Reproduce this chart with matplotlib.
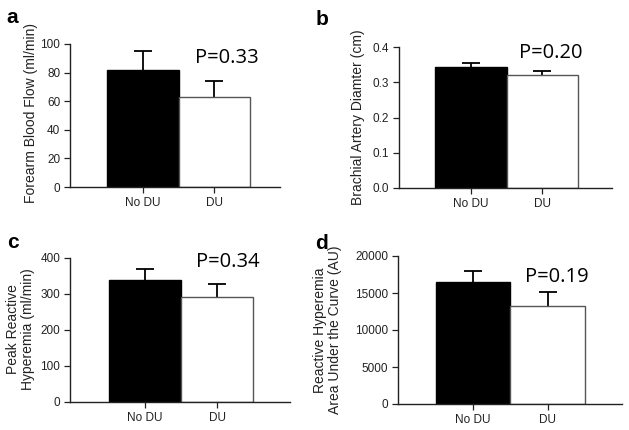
import matplotlib
matplotlib.use("Agg")
import matplotlib.pyplot as plt

groups = ["No DU", "DU"]

fbf_mean = [82, 63]
fbf_err = [13, 11]
fbf_ticks = [0, 20, 40, 60, 80, 100]

bad_mean = [0.343, 0.321]
bad_err = [0.013, 0.010]
bad_ticks = [0.0, 0.1, 0.2, 0.3, 0.4]
bad_ticklabels = ["0.0", "0.1", "0.2", "0.3", "0.4"]

prh_mean = [340, 291]
prh_err = [30, 38]
prh_ticks = [0, 100, 200, 300, 400]

auc_mean = [16500, 13250]
auc_err = [1450, 1900]
auc_ticks = [0, 5000, 10000, 15000, 20000]

p_values = ["P=0.33", "P=0.20", "P=0.34", "P=0.19"]
panel_letters = ["a", "b", "c", "d"]
ylabels = [["Forearm Blood Flow (ml/min)"], ["Brachial Artery Diamter (cm)"],
           ["Peak Reactive", "Hyperemia (ml/min)"],
           ["Reactive Hyperemia", "Area Under the Curve (AU)"]]

W, H = 629, 430
fig = plt.figure(figsize=(W / 100, H / 100), dpi=100)
plt.rcParams['font.family'] = ['Liberation Sans', 'DejaVu Sans']

def fx(px):
    return px / W

def fy(py):
    return 1 - py / H

panels = [
    dict(box=(70, 280, 44, 187), xlim=(-1.02, 1.92), mean=fbf_mean, err=fbf_err,
         ticks=fbf_ticks, tl=[str(t) for t in fbf_ticks], p=(0.748, 0.905),
         letter=(12.5, 23), ylab=([31], 113)),
    dict(box=(399, 612, 47, 188), xlim=(-1.0, 1.97), mean=bad_mean, err=bad_err,
         ticks=bad_ticks, tl=bad_ticklabels, p=(0.714, 0.955),
         letter=(322, 25), ylab=([358], 117)),
    dict(box=(70, 290, 258, 402), xlim=(-1.04, 2.01), mean=prh_mean, err=prh_err,
         ticks=prh_ticks, tl=[str(t) for t in prh_ticks], p=(0.718, 0.97),
         letter=(12.5, 248), ylab=([13, 28], 329)),
    dict(box=(398, 622, 256, 404), xlim=(-1.01, 2.0), mean=auc_mean, err=auc_err,
         ticks=auc_ticks, tl=[str(t) for t in auc_ticks], p=(0.708, 0.86),
         letter=(321, 249), ylab=([320, 335], 330)),
]

for i, pn in enumerate(panels):
    l, r, t, b = pn["box"]
    ax = fig.add_axes([fx(l), fy(b), fx(r) - fx(l), fy(t) - fy(b)])
    x = list(range(len(groups)))
    eb = ax.errorbar(x, pn["mean"], yerr=[[0, 0], pn["err"]], fmt="none",
                     ecolor="black", elinewidth=1.3, capsize=6.5, capthick=1.3, zorder=1)
    caps = eb[1]
    if len(caps) == 2:
        caps[0].set_visible(False)
    ax.bar(x, pn["mean"], width=1.0, color=["black", "white"],
           edgecolor=["black", "#555555"], linewidth=1.0, zorder=2)
    ax.set_xlim(*pn["xlim"])
    ax.set_ylim(pn["ticks"][0], pn["ticks"][-1])
    ax.set_yticks(pn["ticks"])
    ax.set_yticklabels(pn["tl"])
    ax.set_xticks(x)
    ax.set_xticklabels(groups)
    for s in ["top", "right"]:
        ax.spines[s].set_visible(False)
    for s in ["left", "bottom"]:
        ax.spines[s].set_linewidth(1.0)
        ax.spines[s].set_color("#222222")
    ax.tick_params(axis="both", direction="out", length=4, width=0.9,
                   labelsize=8.5, colors="#222222", pad=3)
    ax.patch.set_alpha(0)
    ax.text(pn["p"][0], pn["p"][1], p_values[i], transform=ax.transAxes,
            ha="center", va="center", fontsize=14.5, family=["Open Sans", "DejaVu Sans"],
            color="black")
    fig.text(fx(pn["letter"][0]), fy(pn["letter"][1]), panel_letters[i],
             ha="center", va="baseline", fontsize=15, fontweight="bold", color="black")
    for xpos, line in zip(pn["ylab"][0], ylabels[i]):
        fig.text(fx(xpos), fy(pn["ylab"][1]), line, rotation=90,
                 ha="center", va="center", fontsize=10, color="#222222")

fig.savefig("out.png", dpi=100)
